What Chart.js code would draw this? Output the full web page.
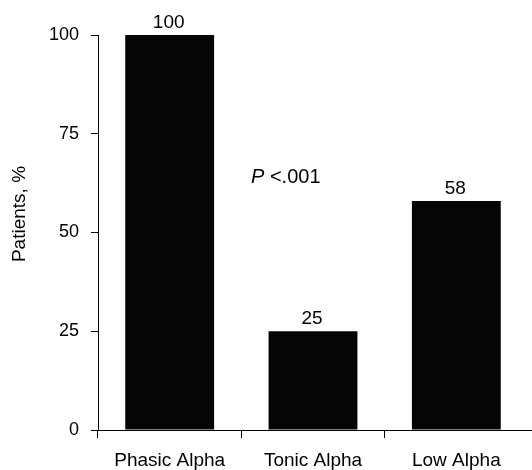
<!DOCTYPE html>
<html>
<head>
<meta charset="utf-8">
<script src="https://cdn.jsdelivr.net/npm/chart.js@4/dist/chart.umd.min.js"></script>
<style>
  html, body { margin: 0; padding: 0; background: #fff; }
  #wrap { width: 532px; height: 470px; position: relative; }
</style>
</head>
<body>
<div id="wrap"><canvas id="c" width="532" height="470"></canvas></div>
<script>
const categories = ["Phasic Alpha", "Tonic Alpha", "Low Alpha"];
const patientsPct = [100, 25, 58];
const yTicks = [0, 25, 50, 75, 100];
const yTitle = "Patients, %";
const pLabel = "P";
const pRest = " <.001";

const FONT = "'Liberation Sans', Arial, sans-serif";

const overlay = {
  id: 'overlay',
  afterDatasetsDraw(chart) {
    const ctx = chart.ctx;
    const meta = chart.getDatasetMeta(0);
    ctx.save();
    ctx.fillStyle = '#000';
    ctx.font = '19px ' + FONT;
    ctx.textAlign = 'center';
    ctx.textBaseline = 'alphabetic';
    meta.data.forEach((bar, i) => {
      ctx.fillText(String(patientsPct[i]), bar.x - 1, bar.y - 7);
    });
    // axis extension to right edge
    const ys = chart.scales.y;
    const yb = ys.getPixelForValue(0);
    ctx.strokeStyle = '#000';
    ctx.lineWidth = 1;
    ctx.beginPath();
    ctx.moveTo(chart.chartArea.right, Math.round(yb) + 0.5);
    ctx.lineTo(chart.width, Math.round(yb) + 0.5);
    ctx.stroke();
    // P value annotation
    ctx.textAlign = 'left';
    ctx.font = 'italic 20px ' + FONT;
    const px = 251, py = 183;
    ctx.fillText(pLabel, px, py);
    const w = ctx.measureText(pLabel).width;
    ctx.font = '20px ' + FONT;
    ctx.fillText(pRest, px + w, py);
    // Y title
    ctx.font = '19px ' + FONT;
    ctx.translate(20, 214);
    ctx.rotate(-Math.PI / 2);
    ctx.textAlign = 'center';
    ctx.textBaseline = 'middle';
    ctx.fillText(yTitle, 0, 0);
    ctx.restore();
  }
};

new Chart(document.getElementById('c'), {
  type: 'bar',
  data: {
    labels: categories,
    datasets: [{
      data: patientsPct,
      backgroundColor: '#050505',
      borderWidth: 0,
      barPercentage: 0.62,
      categoryPercentage: 1.0
    }]
  },
  options: {
    responsive: false,
    animation: false,
    devicePixelRatio: 1,
    layout: { padding: { top: 35, right: 4, left: 0, bottom: 0 } },
    plugins: { legend: { display: false }, tooltip: { enabled: false } },
    scales: {
      x: {
        offset: true,
        grid: {
          offset: true, drawOnChartArea: false, drawTicks: true, tickLength: 8, lineWidth: 1,
          color: (c) => (c.type === 'tick' ? '#000' : 'rgba(0,0,0,0)')
        },
        border: { display: true, color: '#000', width: 1 },
        ticks: { color: '#000', font: { family: FONT, size: 19 }, padding: 11, maxRotation: 0, autoSkip: false },
        afterFit(s) { s.height = 40; }
      },
      y: {
        min: 0, max: 100,
        afterBuildTicks(s) { s.ticks = yTicks.map(v => ({ value: v })); },
        grid: { drawOnChartArea: false, drawTicks: true, tickLength: 7, color: '#000', lineWidth: 1 },
        border: { display: true, color: '#000', width: 1 },
        ticks: { color: '#000', font: { family: FONT, size: 18 }, padding: 12 },
        afterFit(s) { s.width = 98; }
      }
    }
  },
  plugins: [overlay]
});
</script>
</body>
</html>
